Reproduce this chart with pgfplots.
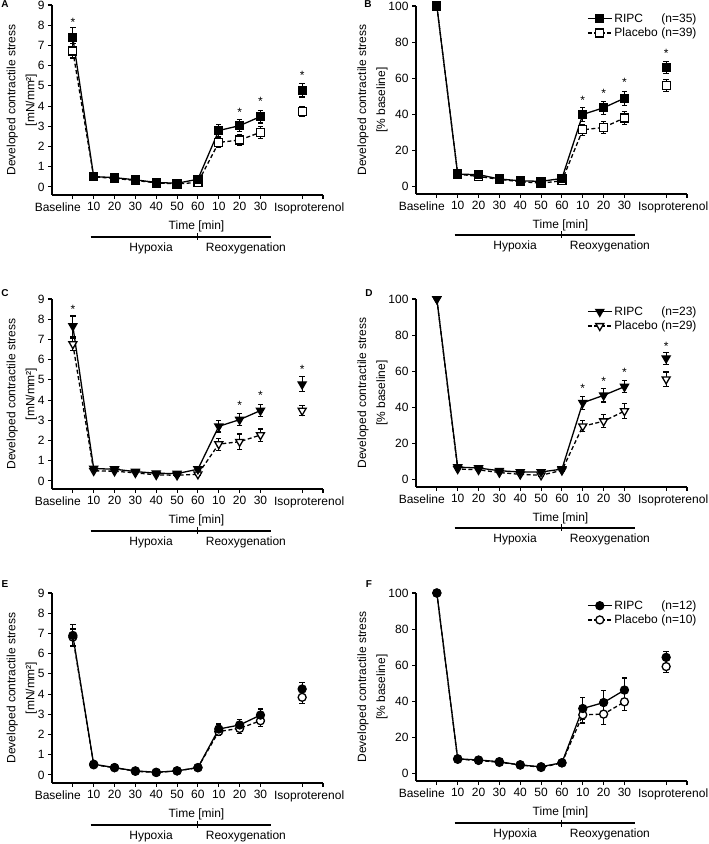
\documentclass[border=0pt]{standalone}
\usepackage{fontspec}
\setmainfont{Liberation Sans}
\usepackage{pgfplots}
\pgfplotsset{compat=1.18}

\newcommand\fs{\fontsize{12}{15}\selectfont}

% Hypoxia / Reoxygenation bar under an axis: #1 = ymin, #2 = offset below the x axis
\newcommand\phases[2]{%
  \draw[line width=1.1pt] ([yshift=-#2]axis cs:0.85,#1) -- ([yshift=-#2]axis cs:9.5,#1);
  \draw[line width=1.1pt] ([yshift=-#2+3.5pt]axis cs:6,#1) -- ([yshift=-#2-3.5pt]axis cs:6,#1);
  \node[font=\fs] at ([yshift=-#2-11pt]axis cs:3.75,#1) {Hypoxia};
  \node[font=\fs] at ([yshift=-#2-11pt]axis cs:8.3,#1) {Reoxygenation};
}

\pgfplotsset{
  panel/.style={
    scale only axis, width=271pt,
    xmin=-1, xmax=12,
    axis lines=left,
    axis line style={-, line width=1.1pt},
    every tick/.style={black, line width=1.1pt},
    tick align=outside, major tick length=4pt,
    xtick={0,...,9,11,12},
    xticklabels={\makebox[16pt][r]{Baseline},10,20,30,40,50,60,10,20,30,\hspace*{14pt}Isoproterenol,{}},
    clip=false,
    tick label style={font=\fs},
    label style={font=\fs},
    /pgf/number format/assume math mode=true,
    xlabel={Time [min]},
    xlabel style={xshift=9pt},
    ylabel style={align=center, yshift=-6pt},
    legend style={draw=none, fill=none, font=\fs, anchor=north west,
                  at={(axis cs:7.2,97)}, inner sep=0pt, row sep=0pt},
    legend cell align=left,
    reverse legend,
    legend image code/.code={\draw[mark repeat=2,mark phase=2,##1] plot coordinates {(0pt,0pt) (12pt,0pt) (24pt,0pt)};},
  },
  mn/.style={ymin=-0.4, ymax=9, ytick={0,...,9}, height=190pt,
    ylabel={Developed contractile stress\\[4pt][mN/mm²]}},
  pc/.style={ymin=-4, ymax=100, ytick={0,20,...,100}, height=188pt,
    ylabel={Developed contractile stress\\[4pt][\% baseline]}},
  errs/.style={
    /pgfplots/error bars/y dir=both,
    /pgfplots/error bars/y explicit,
    /pgfplots/error bars/error mark=-,
    /pgfplots/error bars/error bar style={line width=1.1pt, solid},
    /pgfplots/error bars/error mark options={rotate=90, line width=1.1pt, mark size=2.7pt, solid},
  },
  ripc/.style={black, line width=1.3pt, solid, errs},
  plac/.style={black, line width=1.3pt, dash pattern=on 4pt off 2.5pt, errs},
  stars/.style={forget plot, draw=none, mark=none, nodes near coords={*},
    every node near coord/.append style={anchor=center, font=\fs, inner sep=0pt, yshift=-3pt}},
}

\begin{document}
\begin{tikzpicture}
\path[use as bounding box] (0,0) rectangle (709pt,844pt);

% ---------------- A ----------------
\begin{axis}[panel, mn, at={(52pt,649pt)}]
\addplot[plac, mark=square*, mark size=4pt, mark options={solid, fill=white}] coordinates {
  (0,6.73) +- (0,0.35) (1,0.50) +- (0,0.05) (2,0.42) +- (0,0.05) (3,0.32) +- (0,0.04)
  (4,0.20) +- (0,0.04) (5,0.15) +- (0,0.04) (6,0.22) +- (0,0.05)
  (7,2.20) +- (0,0.25) (8,2.32) +- (0,0.28) (9,2.70) +- (0,0.30)};
\addplot[plac, forget plot, only marks, mark=square*, mark size=4pt, mark options={solid, fill=white}] coordinates {(11,3.73) +- (0,0.25)};
\addplot[ripc, mark=square*, mark size=4pt, mark options={solid, fill=black}] coordinates {
  (0,7.38) +- (0,0.50) (1,0.51) +- (0,0.05) (2,0.46) +- (0,0.05) (3,0.35) +- (0,0.04)
  (4,0.22) +- (0,0.04) (5,0.18) +- (0,0.04) (6,0.38) +- (0,0.05)
  (7,2.79) +- (0,0.28) (8,3.03) +- (0,0.30) (9,3.48) +- (0,0.32)};
\addplot[ripc, forget plot, only marks, mark=square*, mark size=4pt, mark options={solid, fill=black}] coordinates {(11,4.78) +- (0,0.33)};
\addplot[stars] coordinates {(0,8.29) (8,3.86) (9,4.36) (11,5.69)};
\phases{-0.4}{42pt}
\end{axis}

% ---------------- B ----------------
\begin{axis}[panel, pc, at={(416pt,650pt)}]
\addplot[plac, mark=square*, mark size=4pt, mark options={solid, fill=white}] coordinates {
  (0,100) +- (0,0) (1,7.0) +- (0,0.7) (2,5.7) +- (0,0.6) (3,4.1) +- (0,0.5)
  (4,2.8) +- (0,0.5) (5,2.0) +- (0,0.5) (6,3.3) +- (0,0.5)
  (7,31.5) +- (0,3.0) (8,32.8) +- (0,3.5) (9,38.1) +- (0,3.5)};
\addlegendentry{\makebox[47pt][l]{Placebo}(n=39)}
\addplot[plac, forget plot, only marks, mark=square*, mark size=4pt, mark options={solid, fill=white}] coordinates {(11,56.0) +- (0,3.5)};
\addplot[ripc, mark=square*, mark size=4pt, mark options={solid, fill=black}] coordinates {
  (0,100) +- (0,0) (1,7.0) +- (0,0.7) (2,6.7) +- (0,0.7) (3,4.3) +- (0,0.5)
  (4,3.3) +- (0,0.5) (5,3.0) +- (0,0.5) (6,4.6) +- (0,0.6)
  (7,40.0) +- (0,3.7) (8,43.7) +- (0,3.7) (9,49.0) +- (0,3.8)};
\addlegendentry{\makebox[47pt][l]{RIPC}(n=35)}
\addplot[ripc, forget plot, only marks, mark=square*, mark size=4pt, mark options={solid, fill=black}] coordinates {(11,66.0) +- (0,3.2)};
\addplot[stars] coordinates {(7,49.6) (8,53.3) (9,59.4) (11,75.6)};
\phases{-4}{41pt}
\end{axis}

% ---------------- C ----------------
\begin{axis}[panel, mn, at={(52pt,355pt)}]
\addplot[plac, mark=triangle*, mark size=4.6pt, mark options={solid, fill=white, rotate=180}] coordinates {
  (0,6.77) +- (0,0.30) (1,0.50) +- (0,0.05) (2,0.48) +- (0,0.05) (3,0.40) +- (0,0.05)
  (4,0.30) +- (0,0.05) (5,0.28) +- (0,0.05) (6,0.33) +- (0,0.05)
  (7,1.82) +- (0,0.30) (8,1.94) +- (0,0.38) (9,2.27) +- (0,0.30)};
\addplot[plac, forget plot, only marks, mark=triangle*, mark size=4.6pt, mark options={solid, fill=white, rotate=180}] coordinates {(11,3.48) +- (0,0.25)};
\addplot[ripc, mark=triangle*, mark size=4.6pt, mark options={solid, fill=black, rotate=180}] coordinates {
  (0,7.66) +- (0,0.50) (1,0.61) +- (0,0.06) (2,0.58) +- (0,0.06) (3,0.46) +- (0,0.05)
  (4,0.38) +- (0,0.05) (5,0.36) +- (0,0.05) (6,0.58) +- (0,0.06)
  (7,2.70) +- (0,0.28) (8,3.03) +- (0,0.30) (9,3.48) +- (0,0.30)};
\addplot[ripc, forget plot, only marks, mark=triangle*, mark size=4.6pt, mark options={solid, fill=black, rotate=180}] coordinates {(11,4.78) +- (0,0.37)};
\addplot[stars] coordinates {(0,8.65) (8,3.90) (9,4.36) (11,5.67)};
\phases{-0.4}{42pt}
\end{axis}

% ---------------- D ----------------
\begin{axis}[panel, pc, at={(416pt,357pt)}]
\addplot[plac, mark=triangle*, mark size=4.6pt, mark options={solid, fill=white, rotate=180}] coordinates {
  (0,100) +- (0,0) (1,6.0) +- (0,0.6) (2,5.5) +- (0,0.6) (3,4.0) +- (0,0.5)
  (4,3.0) +- (0,0.5) (5,2.5) +- (0,0.5) (6,5.2) +- (0,0.6)
  (7,29.6) +- (0,3.0) (8,32.4) +- (0,3.5) (9,38.0) +- (0,4.0)};
\addlegendentry{\makebox[47pt][l]{Placebo}(n=29)}
\addplot[plac, forget plot, only marks, mark=triangle*, mark size=4.6pt, mark options={solid, fill=white, rotate=180}] coordinates {(11,55.6) +- (0,4.0)};
\addplot[ripc, mark=triangle*, mark size=4.6pt, mark options={solid, fill=black, rotate=180}] coordinates {
  (0,100) +- (0,0) (1,7.0) +- (0,0.7) (2,6.5) +- (0,0.7) (3,5.0) +- (0,0.6)
  (4,4.3) +- (0,0.5) (5,4.3) +- (0,0.5) (6,5.9) +- (0,0.6)
  (7,42.6) +- (0,3.7) (8,46.7) +- (0,3.7) (9,51.5) +- (0,3.2)};
\addlegendentry{\makebox[47pt][l]{RIPC}(n=23)}
\addplot[ripc, forget plot, only marks, mark=triangle*, mark size=4.6pt, mark options={solid, fill=black, rotate=180}] coordinates {(11,67.2) +- (0,3.2)};
\addplot[stars] coordinates {(7,52.2) (8,56.1) (9,61.1) (11,75.6)};
\phases{-4}{41pt}
\end{axis}

% ---------------- E ----------------
\begin{axis}[panel, mn, at={(52pt,61pt)}]
\addplot[plac, mark=*, mark size=4pt, mark options={solid, fill=white}] coordinates {
  (0,6.82) +- (0,0.40) (1,0.50) +- (0,0.05) (2,0.36) +- (0,0.05) (3,0.18) +- (0,0.04)
  (4,0.12) +- (0,0.04) (5,0.20) +- (0,0.04) (6,0.36) +- (0,0.05)
  (7,2.15) +- (0,0.20) (8,2.30) +- (0,0.25) (9,2.68) +- (0,0.30)};
\addplot[plac, forget plot, only marks, mark=*, mark size=4pt, mark options={solid, fill=white}] coordinates {(11,3.84) +- (0,0.30)};
\addplot[ripc, mark=*, mark size=4pt, mark options={solid, fill=black}] coordinates {
  (0,6.90) +- (0,0.55) (1,0.53) +- (0,0.05) (2,0.36) +- (0,0.05) (3,0.20) +- (0,0.04)
  (4,0.13) +- (0,0.04) (5,0.20) +- (0,0.04) (6,0.36) +- (0,0.05)
  (7,2.27) +- (0,0.25) (8,2.47) +- (0,0.28) (9,2.96) +- (0,0.30)};
\addplot[ripc, forget plot, only marks, mark=*, mark size=4pt, mark options={solid, fill=black}] coordinates {(11,4.25) +- (0,0.34)};
\phases{-0.4}{42pt}
\end{axis}

% ---------------- F ----------------
\begin{axis}[panel, pc, at={(416pt,63pt)}]
\addplot[plac, mark=*, mark size=4pt, mark options={solid, fill=white}] coordinates {
  (0,100) +- (0,0) (1,8.0) +- (0,0.8) (2,7.4) +- (0,0.7) (3,6.3) +- (0,0.6)
  (4,5.0) +- (0,0.5) (5,3.5) +- (0,0.5) (6,6.0) +- (0,0.6)
  (7,32.6) +- (0,4.5) (8,33.0) +- (0,5.5) (9,39.8) +- (0,5.0)};
\addlegendentry{\makebox[47pt][l]{Placebo}(n=10)}
\addplot[plac, forget plot, only marks, mark=*, mark size=4pt, mark options={solid, fill=white}] coordinates {(11,59.3) +- (0,3.5)};
\addplot[ripc, mark=*, mark size=4pt, mark options={solid, fill=black}] coordinates {
  (0,100) +- (0,0) (1,8.3) +- (0,0.8) (2,7.6) +- (0,0.7) (3,6.7) +- (0,0.6)
  (4,4.8) +- (0,0.5) (5,3.9) +- (0,0.5) (6,6.1) +- (0,0.6)
  (7,36.1) +- (0,6.0) (8,39.4) +- (0,6.7) (9,46.3) +- (0,6.7)};
\addlegendentry{\makebox[47pt][l]{RIPC}(n=12)}
\addplot[ripc, forget plot, only marks, mark=*, mark size=4pt, mark options={solid, fill=black}] coordinates {(11,64.4) +- (0,3.4)};
\phases{-4}{42pt}
\end{axis}

% panel letters
\begin{scope}[every node/.style={font=\bfseries\fontsize{10}{12}\selectfont, inner sep=0pt}]
\node at (5pt,840pt) {A};
\node at (368pt,840pt) {B};
\node at (5pt,551pt) {C};
\node at (369pt,551pt) {D};
\node at (5pt,260pt) {E};
\node at (369pt,260pt) {F};
\end{scope}
\end{tikzpicture}
\end{document}
